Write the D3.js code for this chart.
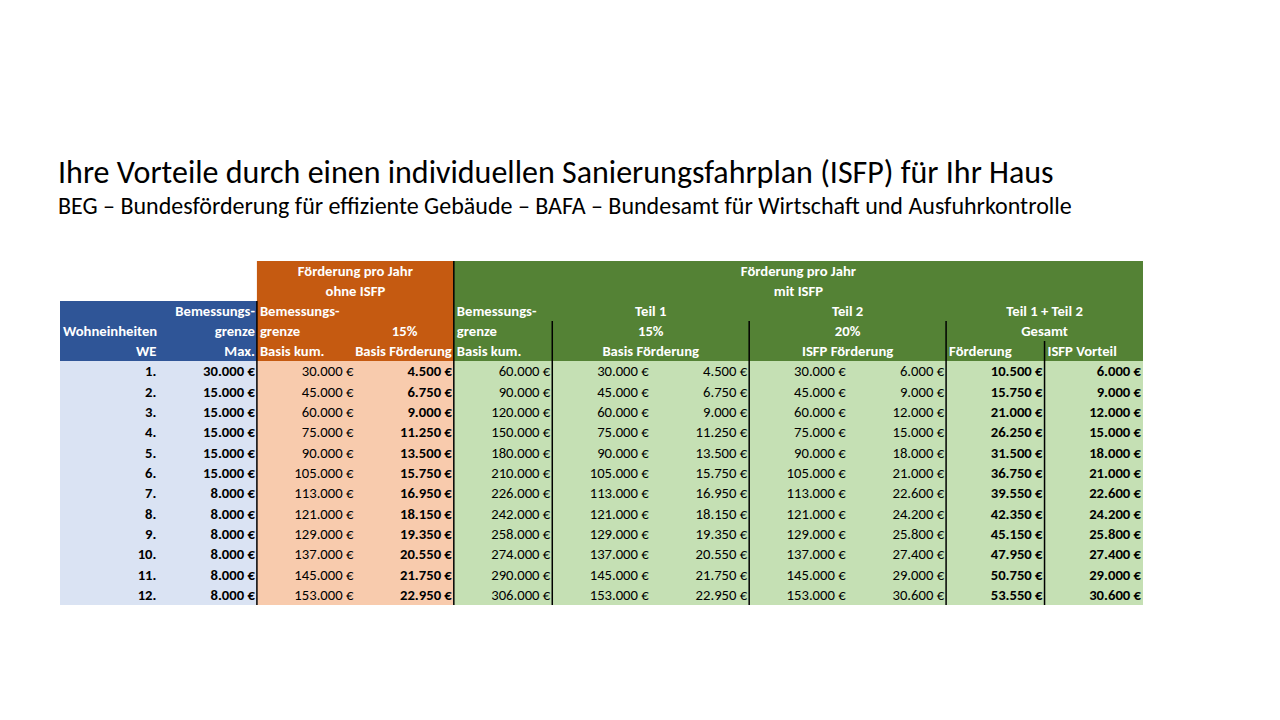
<!DOCTYPE html>
<html>
<head>
<meta charset="utf-8">
<script src="https://cdn.jsdelivr.net/npm/d3@7"></script>
<style>
  body { margin: 0; background: #fff; }
  svg text { font-family: Carlito, Lato, "Open Sans", sans-serif; }
</style>
</head>
<body>
<svg id="chart"></svg>
<script>
// table values, one array per column
const we          = ["1.", "2.", "3.", "4.", "5.", "6.", "7.", "8.", "9.", "10.", "11.", "12."];
const maxGrenze   = [30000, 15000, 15000, 15000, 15000, 15000, 8000, 8000, 8000, 8000, 8000, 8000];
const ohneKum     = [30000, 45000, 60000, 75000, 90000, 105000, 113000, 121000, 129000, 137000, 145000, 153000];
const ohneFoerd   = [4500, 6750, 9000, 11250, 13500, 15750, 16950, 18150, 19350, 20550, 21750, 22950];
const mitKum      = [60000, 90000, 120000, 150000, 180000, 210000, 226000, 242000, 258000, 274000, 290000, 306000];
const teil1Basis  = [30000, 45000, 60000, 75000, 90000, 105000, 113000, 121000, 129000, 137000, 145000, 153000];
const teil1Foerd  = [4500, 6750, 9000, 11250, 13500, 15750, 16950, 18150, 19350, 20550, 21750, 22950];
const teil2Basis  = [30000, 45000, 60000, 75000, 90000, 105000, 113000, 121000, 129000, 137000, 145000, 153000];
const teil2Foerd  = [6000, 9000, 12000, 15000, 18000, 21000, 22600, 24200, 25800, 27400, 29000, 30600];
const gesamtFoerd = [10500, 15750, 21000, 26250, 31500, 36750, 39550, 42350, 45150, 47950, 50750, 53550];
const isfpVorteil = [6000, 9000, 12000, 15000, 18000, 21000, 22600, 24200, 25800, 27400, 29000, 30600];

const title = "Ihre Vorteile durch einen individuellen Sanierungsfahrplan (ISFP) für Ihr Haus";
const subtitle = "BEG – Bundesförderung für effiziente Gebäude – BAFA – Bundesamt für Wirtschaft und Ausfuhrkontrolle";

const colKeys = ["we", "max", "ohneKum", "ohneFoerd", "mitKum", "t1b", "t1f", "t2b", "t2f", "ges", "vort"];
const columns = [we, maxGrenze, ohneKum, ohneFoerd, mitKum, teil1Basis, teil1Foerd, teil2Basis, teil2Foerd, gesamtFoerd, isfpVorteil];
const boldCols = ["we", "max", "ohneFoerd", "ges", "vort"];

const W = 1280, H = 720;
const svg = d3.select("#chart").attr("width", W).attr("height", H);

const fmt = d3.formatLocale({ decimal: ",", thousands: ".", grouping: [3], currency: ["", " €"] }).format("$,.0f");

const x = d3.scaleBand().domain(colKeys).range([60, 1143]);
const y = d3.scaleBand().domain(d3.range(12)).range([361, 605]);
const hy = d3.scaleBand().domain(d3.range(5)).range([261, 361]);

const blueDark = "#2F5597", blueLight = "#DAE3F3";
const orangeDark = "#C55A11", orangeLight = "#F8CBAD";
const greenDark = "#548235", greenLight = "#C5E0B4";
const fs = 14.67;

// title
svg.append("text").attr("x", 58).attr("y", 183)
  .attr("font-size", 32).attr("fill", "#000").text(title);
svg.append("text").attr("x", 58).attr("y", 214)
  .attr("font-size", 24).attr("fill", "#000").text(subtitle);

// header blocks
const left = k => x(k), right = k => x(k) + x.bandwidth();
svg.append("rect").attr("x", left("we")).attr("y", hy(2))
  .attr("width", right("max") - left("we")).attr("height", 361 - hy(2)).attr("fill", blueDark);
svg.append("rect").attr("x", left("ohneKum")).attr("y", hy(0))
  .attr("width", right("ohneFoerd") - left("ohneKum")).attr("height", 361 - hy(0)).attr("fill", orangeDark);
svg.append("rect").attr("x", left("mitKum")).attr("y", hy(0))
  .attr("width", right("vort") - left("mitKum")).attr("height", 361 - hy(0)).attr("fill", greenDark);

// body blocks
svg.append("rect").attr("x", left("we")).attr("y", y(0))
  .attr("width", right("max") - left("we")).attr("height", y.range()[1] - y(0)).attr("fill", blueLight);
svg.append("rect").attr("x", left("ohneKum")).attr("y", y(0))
  .attr("width", right("ohneFoerd") - left("ohneKum")).attr("height", y.range()[1] - y(0)).attr("fill", orangeLight);
svg.append("rect").attr("x", left("mitKum")).attr("y", y(0))
  .attr("width", right("vort") - left("mitKum")).attr("height", y.range()[1] - y(0)).attr("fill", greenLight);

// header texts: [line, text, anchor, col-from, col-to]
const headers = [
  [0, "Förderung pro Jahr", "middle", "ohneKum", "ohneFoerd"],
  [1, "ohne ISFP", "middle", "ohneKum", "ohneFoerd"],
  [0, "Förderung pro Jahr", "middle", "mitKum", "vort"],
  [1, "mit ISFP", "middle", "mitKum", "vort"],
  [2, "Bemessungs-", "end", "max", "max"],
  [3, "grenze", "end", "max", "max"],
  [4, "Max.", "end", "max", "max"],
  [3, "Wohneinheiten", "start", "we", "we"],
  [4, "WE", "end", "we", "we"],
  [2, "Bemessungs-", "start", "ohneKum", "ohneKum"],
  [3, "grenze", "start", "ohneKum", "ohneKum"],
  [4, "Basis kum.", "start", "ohneKum", "ohneKum"],
  [3, "15%", "middle", "ohneFoerd", "ohneFoerd"],
  [4, "Basis Förderung", "end", "ohneFoerd", "ohneFoerd"],
  [2, "Bemessungs-", "start", "mitKum", "mitKum"],
  [3, "grenze", "start", "mitKum", "mitKum"],
  [4, "Basis kum.", "start", "mitKum", "mitKum"],
  [2, "Teil 1", "middle", "t1b", "t1f"],
  [3, "15%", "middle", "t1b", "t1f"],
  [4, "Basis Förderung", "middle", "t1b", "t1f"],
  [2, "Teil 2", "middle", "t2b", "t2f"],
  [3, "20%", "middle", "t2b", "t2f"],
  [4, "ISFP Förderung", "middle", "t2b", "t2f"],
  [2, "Teil 1 + Teil 2", "middle", "ges", "vort"],
  [3, "Gesamt", "middle", "ges", "vort"],
  [4, "Förderung", "start", "ges", "ges"],
  [4, "ISFP Vorteil", "start", "vort", "vort"]
];

function anchorX(anchor, a, b) {
  if (anchor === "start") return left(a) + 3;
  if (anchor === "end") return right(b) - 2;
  return (left(a) + right(b)) / 2;
}

svg.append("g").selectAll("text")
  .data(headers)
  .join("text")
  .attr("x", d => anchorX(d[2], d[3], d[4]))
  .attr("y", d => hy(d[0]) + hy.bandwidth() / 2)
  .attr("dy", "0.35em")
  .attr("text-anchor", d => d[2])
  .attr("font-size", fs)
  .attr("font-weight", "bold")
  .attr("fill", "#fff")
  .text(d => d[1]);

// body cells
const cells = [];
columns.forEach((col, ci) => {
  col.forEach((v, ri) => cells.push({ key: colKeys[ci], row: ri, value: v }));
});

svg.append("g").selectAll("text")
  .data(cells)
  .join("text")
  .attr("x", d => right(d.key) - 2)
  .attr("y", d => y(d.row) + y.bandwidth() / 2)
  .attr("dy", "0.35em")
  .attr("text-anchor", "end")
  .attr("font-size", fs)
  .attr("font-weight", d => boldCols.includes(d.key) ? "bold" : "normal")
  .attr("fill", "#000")
  .text(d => typeof d.value === "string" ? d.value : fmt(d.value));

// vertical separators: [column whose left edge, top]
const seps = [
  ["ohneKum", hy(2)],
  ["mitKum", hy(0)],
  ["t1b", hy(3)],
  ["t2b", hy(3)],
  ["ges", hy(3)],
  ["vort", hy(4)]
];
svg.append("g").selectAll("line")
  .data(seps)
  .join("line")
  .attr("x1", d => left(d[0])).attr("x2", d => left(d[0]))
  .attr("y1", d => d[1]).attr("y2", y.range()[1])
  .attr("stroke", "#000")
  .attr("stroke-width", 1.5);
</script>
</body>
</html>
